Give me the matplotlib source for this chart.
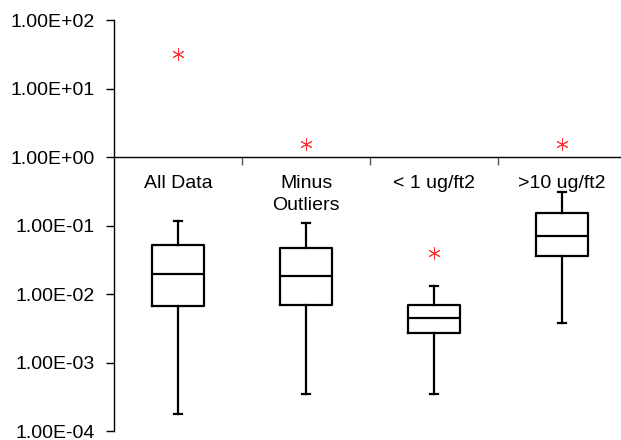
import numpy as np
import matplotlib
matplotlib.use("Agg")
import matplotlib.pyplot as plt
from matplotlib.ticker import FixedLocator, FuncFormatter, NullLocator

plt.rcParams['font.family'] = ['Liberation Sans', 'DejaVu Sans']

# data (log scale)
categories = ["All Data", "Minus\nOutliers", "< 1 ug/ft2", ">10 ug/ft2"]
whisker_low = [1.8e-4, 3.5e-4, 3.5e-4, 3.8e-3]
box_low = [6.6e-3, 6.8e-3, 2.7e-3, 3.55e-2]
medians = [1.95e-2, 1.85e-2, 4.4e-3, 7.0e-2]
box_high = [5.2e-2, 4.7e-2, 7.0e-3, 1.5e-1]
whisker_high = [1.16e-1, 1.08e-1, 1.29e-2, 3.1e-1]
outliers = [[31.6], [1.56], [0.040], [1.56]]

stats = []
for i, name in enumerate(categories):
    stats.append(dict(label=name, whislo=whisker_low[i], q1=box_low[i],
                      med=medians[i], q3=box_high[i], whishi=whisker_high[i],
                      fliers=outliers[i]))

fig = plt.figure(figsize=(6.21, 4.4), dpi=100)
ax = fig.add_axes([114 / 621, 9 / 440, 507 / 621, 411 / 440])

line = dict(color='black', linewidth=1.6)
ax.bxp(stats, positions=[1, 2, 3, 4], widths=0.41, showfliers=True,
       boxprops=line, whiskerprops=line, capprops=line,
       medianprops=dict(color='black', linewidth=1.6),
       flierprops=dict(marker=(6, 2, 0), markersize=9, markeredgecolor='#ff3030',
                       markerfacecolor='none', markeredgewidth=0.7,
                       linestyle='none'),
       capwidths=0.06)

ax.set_yscale('log')
ax.set_ylim(1e-4, 1e2)
ax.set_xlim(0.5, 0.5 + 507 / 128)

ax.yaxis.set_major_locator(FixedLocator([10.0 ** k for k in range(-4, 3)]))
ax.yaxis.set_minor_locator(NullLocator())
ax.yaxis.set_major_formatter(FuncFormatter(lambda v, p: f"{v:.2E}"))
ax.tick_params(axis='y', which='major', length=6, width=1, pad=8,
               labelsize=14, colors='black')

# category axis crosses at y = 1
ax.spines['bottom'].set_position(('data', 1.0))
ax.spines['top'].set_visible(False)
ax.spines['right'].set_visible(False)
for s in ('left', 'bottom'):
    ax.spines[s].set_linewidth(1)
    ax.spines[s].set_color('black')

ax.xaxis.set_major_locator(FixedLocator([1.5, 2.5, 3.5]))
ax.xaxis.set_major_formatter(FuncFormatter(lambda v, p: ""))
ax.xaxis.set_minor_locator(FixedLocator([1, 2, 3, 4]))
ax.xaxis.set_minor_formatter(FuncFormatter(lambda v, p: categories[int(round(v)) - 1]))
ax.tick_params(axis='x', which='major', direction='out', length=6, width=1,
               color='#555555')
ax.tick_params(axis='x', which='minor', length=0, pad=13, labelsize=14)
for t in ax.xaxis.get_minorticklabels():
    t.set_linespacing(1.35)

fig.savefig("out.png", dpi=100)
